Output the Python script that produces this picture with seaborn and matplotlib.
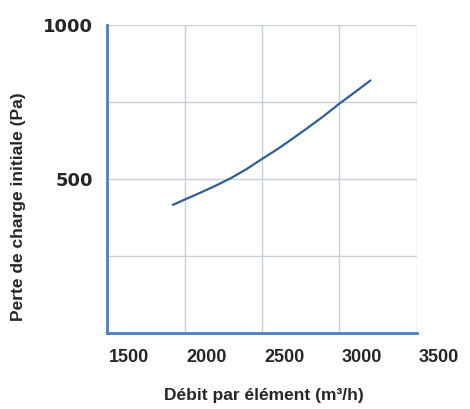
import pandas as pd
import matplotlib
matplotlib.use("Agg")
import matplotlib.pyplot as plt
import matplotlib.transforms as mtransforms
import seaborn as sns

# data
debit = [1925, 2000, 2100, 2200, 2300, 2400, 2500, 2600, 2700, 2800, 2900, 3000, 3100, 3200]
perte = [416, 433, 455, 478, 503, 532, 565, 597, 632, 668, 705, 745, 782, 820]

x_ticks = [1500, 2000, 2500, 3000, 3500]
y_ticks = [0, 250, 500, 750, 1000]
y_labels = ["", "", "500", "", "1000"]

df = pd.DataFrame({"debit": debit, "perte": perte})

sns.set_style("white")
plt.rcParams["font.family"] = ["Liberation Sans", "DejaVu Sans"]

grid_col = "#c5d0da"
spine_col = "#4a7fc1"
text_col = "#262626"

fig = plt.figure(figsize=(4.70, 4.09), dpi=100)
ax = fig.add_axes([0.2277, 0.1858, 0.6595, 0.7531])

sns.lineplot(data=df, x="debit", y="perte", ax=ax, color="#2f5f95", linewidth=1.6)

ax.set_xlim(1500, 3500)
ax.set_ylim(0, 1000)
ax.set_xticks(x_ticks)
ax.set_xticklabels([str(t) for t in x_ticks])
ax.set_yticks(y_ticks)
ax.set_yticklabels(y_labels)

ax.grid(True, color=grid_col, linewidth=1.0)
ax.tick_params(axis="both", length=8.5, width=1.0, color=grid_col, labelcolor=text_col)
ax.tick_params(axis="x", pad=3)
ax.tick_params(axis="y", pad=1.5)
for lab in ax.get_xticklabels():
    lab.set_fontweight("bold")
    lab.set_fontsize(13)
for lab in ax.get_yticklabels():
    lab.set_fontweight("bold")
    lab.set_fontsize(13)
    lab.set_family("DejaVu Sans")

# the printed x labels sit a little to the right of their gridlines
shift = mtransforms.ScaledTranslation(0.22, 0, fig.dpi_scale_trans)
for lab in ax.get_xticklabels():
    lab.set_transform(lab.get_transform() + shift)

for side in ["top", "right"]:
    ax.spines[side].set_visible(False)
for side in ["left", "bottom"]:
    ax.spines[side].set_color(spine_col)
    ax.spines[side].set_linewidth(2.0)

ax.set_xlabel("Débit par élément (m³/h)", fontsize=12.5, fontweight="bold", color=text_col)
ax.set_ylabel("Perte de charge initiale (Pa)", fontsize=12.5, fontweight="bold", color=text_col)
ax.xaxis.set_label_coords(0.506, -0.178)
ax.yaxis.set_label_coords(-0.262, 0.41)

fig.savefig("out.png", dpi=100, facecolor="white")
